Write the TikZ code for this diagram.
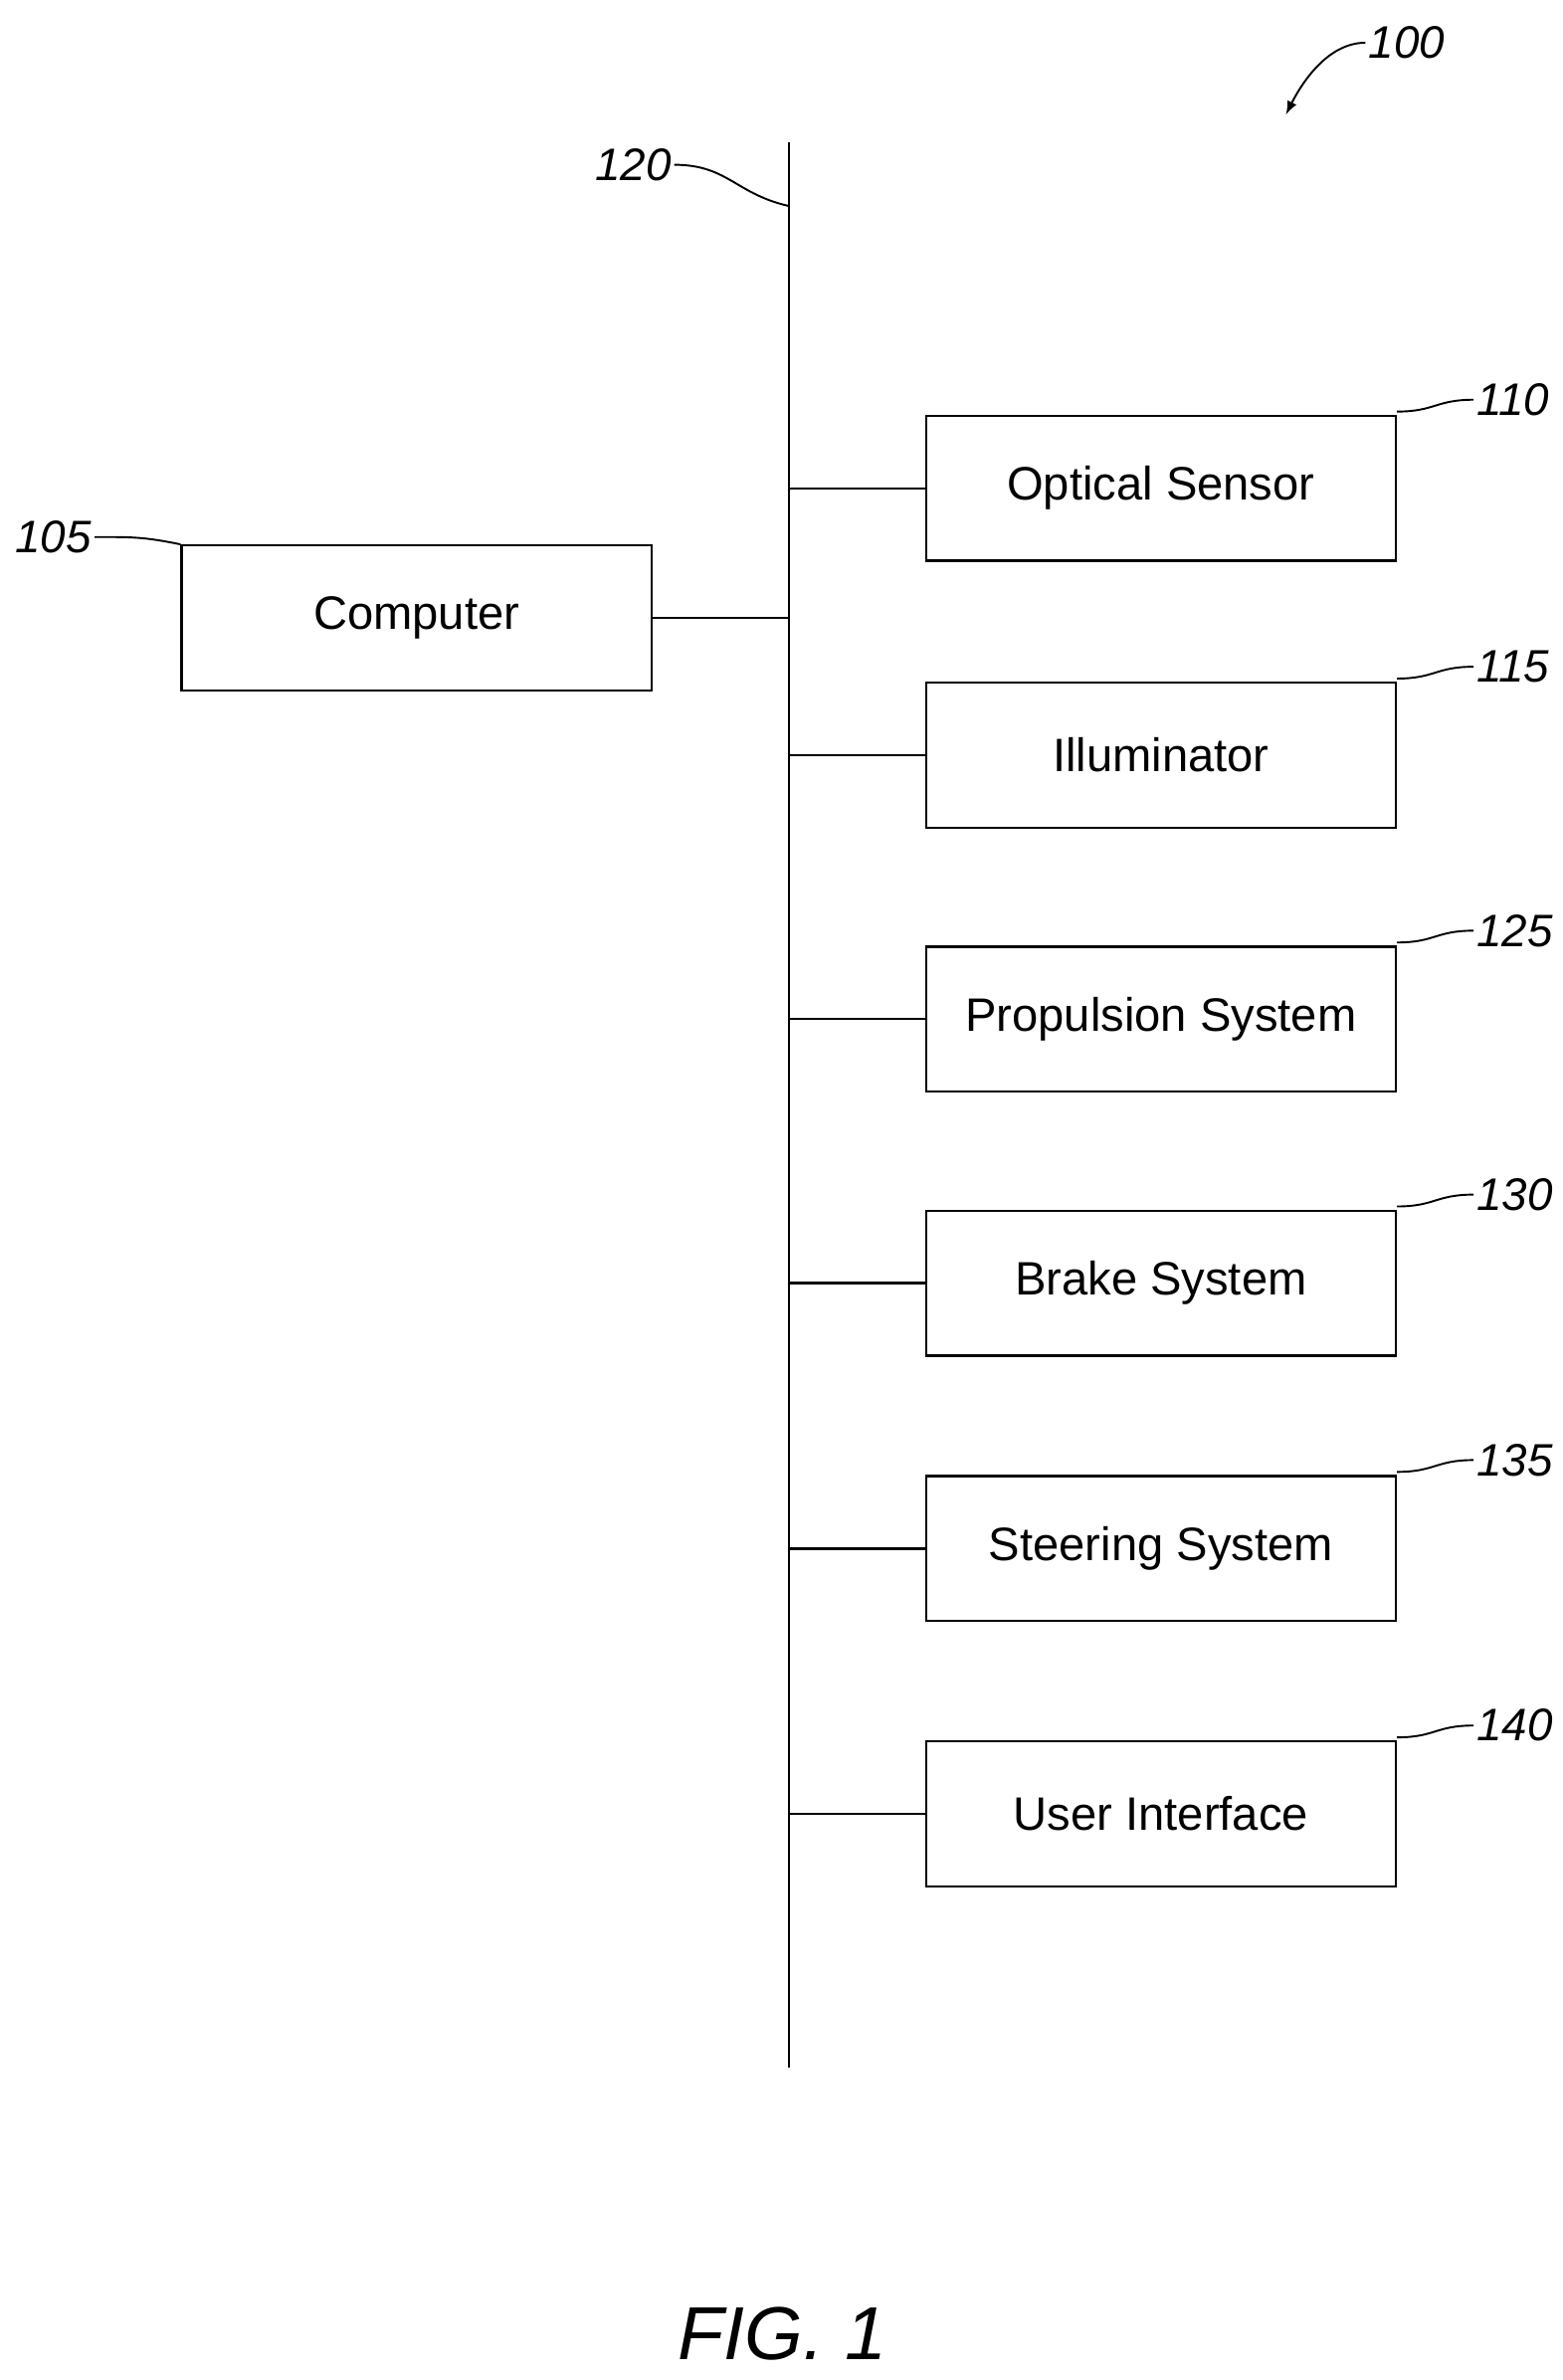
\documentclass[tikz,border=0pt]{standalone}
\usepackage{fontspec}
\setmainfont{Liberation Sans}
\usetikzlibrary{positioning}
\tikzset{
  blk/.style={draw, line width=.3mm, minimum width=6.16cm, minimum height=1.9cm, font=\fontsize{17.5}{21}\selectfont},
  lbl/.style={font=\itshape\fontsize{17}{20}\selectfont, inner sep=1pt},
  lead/.style={line width=.25mm},
}
\begin{document}
\begin{tikzpicture}[x=0.02cm,y=-0.02cm]
\useasboundingbox (0,0) rectangle (1024,1560);
% bus
\coordinate (bt) at (517,93);
\coordinate (bb) at (517,1355);
\draw[line width=.3mm] (bt) -- (bb);
\node[blk] (comp) at (273,405) {Computer};
\draw[line width=.3mm] (comp.east) -- (comp.east -| bt);
\foreach \nm/\yy/\txt/\num in {opt/320/Optical Sensor/110, ill/495/Illuminator/115, prop/668/Propulsion System/125, brk/841/Brake System/130, str/1015/Steering System/135, ui/1189/User Interface/140}{
  \node[blk] (\nm) at (761,\yy) {\txt};
  \draw[line width=.3mm] (\nm.west) -- (\nm.west -| bt);
  \node[lbl, anchor=west] (l\nm) at (966,\yy-58) {\num};
  \draw[lead] (\nm.north east) ++(0,-2) .. controls +(25,0) and +(-25,0) .. (l\nm.west);
}
\node[lbl, anchor=east] (l105) at (62,352) {105};
\draw[lead] (l105.east) .. controls +(25,0) and +(-25,-5) .. (comp.north west);
\node[lbl, anchor=east] (l120) at (442,108) {120};
\coordinate (b120) at (517,135);
\draw[lead] (l120.east) .. controls +(35,0) and +(-35,-8) .. (b120);
\node[lbl, anchor=west] (l100) at (895,28) {100};
\coordinate (a100) at (843,75);
\draw[lead,-latex] (l100.west) .. controls +(-25,0) and +(10,-20) .. (a100);
\node[font=\itshape\fontsize{28}{32}\selectfont] (fig) at (513,1530) {FIG. 1};
\end{tikzpicture}
\end{document}
